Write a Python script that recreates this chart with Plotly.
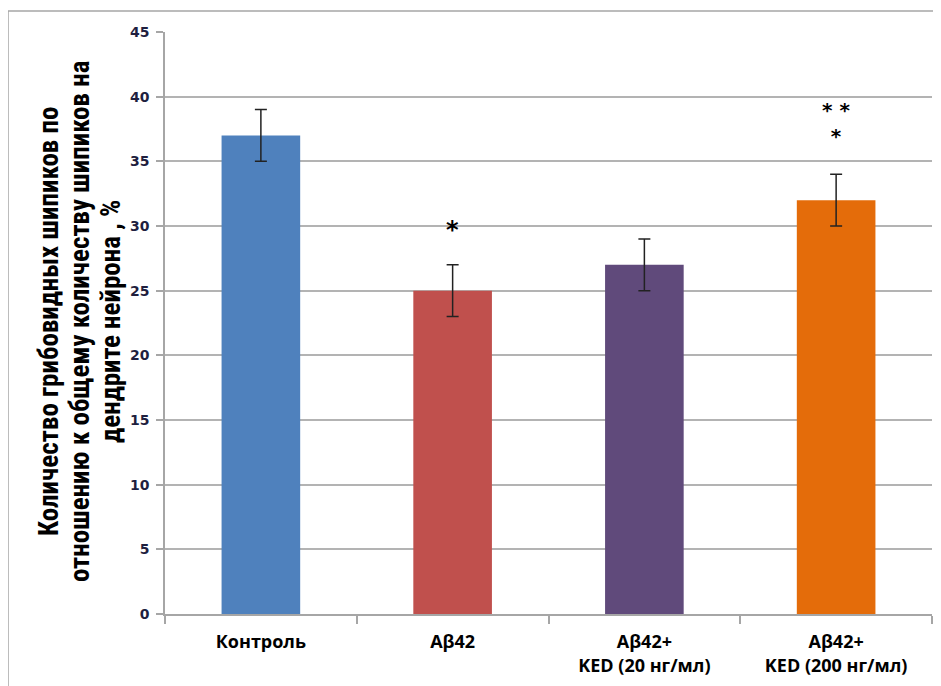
import plotly.graph_objects as go

categories = ["Контроль", "Aβ42", "Aβ42+<br>KED (20 нг/мл)", "Aβ42+<br>KED (200 нг/мл)"]
values = [37, 25, 27, 32]
errors = [2, 2, 2, 2]
colors = ["#4F81BD", "#C0504D", "#604A7B", "#E46C0A"]
sig_cats = ["Aβ42", "Aβ42+<br>KED (200 нг/мл)"]
sig_texts = ["*", "* *<br>*"]
sig_y = [29.7, 38.0]
sig_sizes = [24, 20]
y_title_lines = ["Количество грибовидных шипиков по",
                 "отношению к общему количеству шипиков на",
                 "дендрите нейрона , %"]

# page is offset by the 8px body margin
OFF = 8
W, H = 941 - OFF, 686 - OFF
L, T = 165 - OFF, 32 - OFF
R = W - (932 - OFF)
B = H - (614 - OFF)
pw, ph = W - L - R, H - T - B
def px_x(p):
    return (p - OFF - L) / pw
def px_y(p):
    return (H - B - (p - OFF)) / ph

fig = go.Figure()
fig.add_trace(go.Bar(
    x=categories, y=values,
    marker=dict(color=colors, line=dict(width=0)),
    error_y=dict(type="data", array=errors, visible=True, color="#222222", thickness=1.5, width=6),
    width=0.41,
))

for c, m, yy, s in zip(sig_cats, sig_texts, sig_y, sig_sizes):
    fig.add_annotation(x=c, y=yy, text=m, showarrow=False, xref="x", yref="y",
                       yanchor="middle",
                       font=dict(family="DejaVu Sans", size=s, color="#000000", weight="bold"))

for line, xc in zip(y_title_lines, [49, 80, 111]):
    fig.add_annotation(xref="paper", yref="paper", x=px_x(xc), y=px_y(322), text=line,
                       showarrow=False, textangle=-90, xanchor="center", yanchor="middle",
                       font=dict(family="Liberation Sans Narrow, Roboto Condensed, Liberation Sans", size=27,
                                 color="#000000", weight="bold"))

fig.add_shape(type="line", xref="paper", yref="paper", x0=px_x(8), x1=px_x(8), y0=px_y(11), y1=px_y(720),
              line=dict(color="#A6A6A6", width=1.5), layer="below")
fig.add_shape(type="line", xref="paper", yref="paper", x0=px_x(8), x1=px_x(960), y0=px_y(11), y1=px_y(11),
              line=dict(color="#A6A6A6", width=1.5), layer="below")

fig.update_layout(
    width=W, height=H,
    margin=dict(l=L, r=R, t=T, b=B, autoexpand=False),
    paper_bgcolor="white", plot_bgcolor="white",
    showlegend=False,
    bargap=0.59,
)
fig.update_xaxes(
    showline=True, linecolor="#A6A6A6", linewidth=1.5,
    ticks="outside", tickson="boundaries", ticklen=8, tickcolor="#A6A6A6", tickwidth=1.5,
    tickfont=dict(family="Open Sans", size=18, color="#000000", weight="bold"),
    ticklabelstandoff=11,
    showgrid=False, automargin=False,
)
fig.update_yaxes(
    range=[0, 45], dtick=5,
    showline=True, linecolor="#A6A6A6", linewidth=1.5,
    ticks="outside", ticklen=7, tickcolor="#A6A6A6", tickwidth=1.5,
    showgrid=True, gridcolor="#B3B3B3", gridwidth=1.5,
    tickfont=dict(family="DejaVu Sans", size=14, color="#1F1F3F", weight="bold"),
    ticklabelstandoff=4,
    zeroline=False, automargin=False,
)

fig.write_html("out.html")
